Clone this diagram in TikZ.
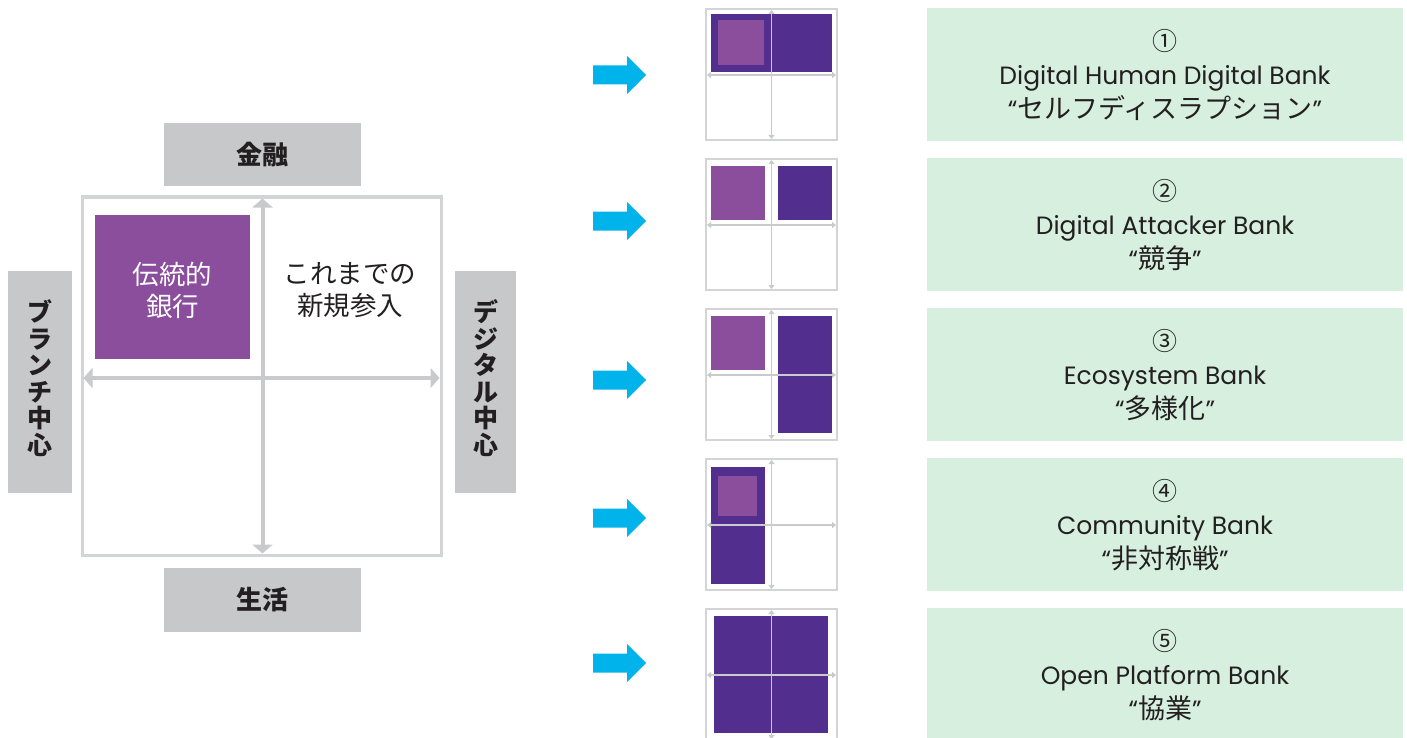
\documentclass[tikz,border=0pt]{standalone}
\usepackage{fontspec}
\setmainfont{Noto Sans CJK JP}
\newfontfamily\lat{Poppins}
\usetikzlibrary{arrows.meta}
\definecolor{boxgray}{HTML}{C7C8CA}
\definecolor{edgegray}{HTML}{D3D4D5}
\definecolor{axisgray}{HTML}{C9CACC}
\definecolor{lpurple}{HTML}{8A4E9C}
\definecolor{dpurple}{HTML}{522E8F}
\definecolor{arrowcyan}{HTML}{00B4EB}
\definecolor{mint}{HTML}{D6EFDF}
\definecolor{ink}{HTML}{231F20}
\newcommand{\jq}[1]{{\fontsize{27}{34}\selectfont #1}}
\tikzset{
  graybox/.style={fill=boxgray, inner sep=0pt, text=ink, font=\bfseries\fontsize{26}{27}\selectfont},
  quadtext/.style={align=center, inner sep=0pt, font=\fontsize{26.5}{32}\selectfont},
  bigaxis/.style={draw=axisgray, line width=4pt, {Triangle[width=20pt,length=9pt]}-{Triangle[width=20pt,length=9pt]}},
  smallaxis/.style={draw=axisgray, line width=1.5pt, {Triangle[width=6pt,length=4pt]}-{Triangle[width=6pt,length=4pt]}},
  gridframe/.style={draw=edgegray, line width=2pt, fill=white},
  lp/.style={fill=lpurple},
  dp/.style={fill=dpurple},
  mintbox/.style={fill=mint, inner sep=0pt, minimum width=476pt, minimum height=133pt},
  label/.style={align=center, text=ink, inner sep=0pt, font=\fontsize{25}{34}\selectfont},
  cyanarrow/.style={fill=arrowcyan},
}
\begin{document}
\begin{tikzpicture}[x=1pt, y=-1pt]
\useasboundingbox (0,0) rectangle (1407,738);
\clip (0,0) rectangle (1407,738);
% ---------- left quadrant ----------
\node[graybox, minimum width=197pt, minimum height=63pt] (fin) at (262.5,154.5) {金融};
\node[graybox, minimum width=197pt, minimum height=64pt] (life) at (262.5,600) {生活};
\node[graybox, minimum width=64pt, minimum height=222pt] (branch) at (40,382) {};
\node[graybox, minimum width=61pt, minimum height=222pt] (digital) at (485.5,382) {};
\node[font=\bfseries\fontsize{25}{26.5}\selectfont, align=center, text=ink, inner sep=0pt] (branchtxt) at (40,378) {ブ\\ラ\\ン\\チ\\中\\心};
\node[font=\bfseries\fontsize{25}{26.5}\selectfont, align=center, text=ink, inner sep=0pt] (digitaltxt) at (485.5,378) {デ\\ジ\\タ\\ル\\中\\心};
\draw[draw=edgegray, line width=3pt] (82,197) rectangle (441,555);
\node[fill=lpurple, minimum width=155pt, minimum height=144pt, inner sep=0pt] (trad) at (172.5,287) {};
\node[quadtext, text=white] (tradtxt) at (172.5,290) {伝統的\\銀行};
\node[quadtext, text=ink] (newtxt) at (350,290) {これまでの\\新規参入};
\coordinate (vtop) at (262.5,198.5);
\coordinate (vbot) at (262.5,553.5);
\coordinate (hl) at (83.5,378);
\coordinate (hr) at (439.5,378);
\draw[bigaxis] (vbot) -- (vtop);
\draw[bigaxis] (hl) -- (hr);
% ---------- cyan arrows ----------
\foreach \c/\n in {75/a1,221/a2,380/a3,518/a4,663/a5}{
  \fill[cyanarrow] (593,\c-9.5) -- (627,\c-9.5) -- (627,\c-19) -- (646,\c) -- (627,\c+19) -- (627,\c+9.5) -- (593,\c+9.5) -- cycle;
}
% ---------- small grids ----------
% grid 1
\begin{scope}[shift={(706,9)}]
  \draw[gridframe] (0,0) rectangle (131,131);
  \fill[dp] (5,5) rectangle (126,63);
  \fill[lp] (12,11) rectangle (58,56);
  \coordinate (g1t) at (65.5,1); \coordinate (g1b) at (65.5,130);
  \coordinate (g1l) at (1,66); \coordinate (g1r) at (130,66);
  \draw[smallaxis] (g1t) -- (g1b); \draw[smallaxis] (g1l) -- (g1r);
\end{scope}
% grid 2
\begin{scope}[shift={(706,159)}]
  \draw[gridframe] (0,0) rectangle (131,131);
  \fill[lp] (5,7) rectangle (59,61);
  \fill[dp] (72,7) rectangle (126,61);
  \coordinate (g2t) at (65.5,1); \coordinate (g2b) at (65.5,130);
  \coordinate (g2l) at (1,66); \coordinate (g2r) at (130,66);
  \draw[smallaxis] (g2t) -- (g2b); \draw[smallaxis] (g2l) -- (g2r);
\end{scope}
% grid 3
\begin{scope}[shift={(706,309)}]
  \draw[gridframe] (0,0) rectangle (131,131);
  \fill[lp] (5,7) rectangle (59,61);
  \fill[dp] (72,7) rectangle (126,124);
  \coordinate (g3t) at (65.5,1); \coordinate (g3b) at (65.5,130);
  \coordinate (g3l) at (1,66); \coordinate (g3r) at (130,66);
  \draw[smallaxis] (g3t) -- (g3b); \draw[smallaxis] (g3l) -- (g3r);
\end{scope}
% grid 4
\begin{scope}[shift={(706,459)}]
  \draw[gridframe] (0,0) rectangle (131,131);
  \fill[dp] (5,8) rectangle (59,125);
  \fill[lp] (12,17) rectangle (51,57);
  \coordinate (g4t) at (65.5,1); \coordinate (g4b) at (65.5,130);
  \coordinate (g4l) at (1,66); \coordinate (g4r) at (130,66);
  \draw[smallaxis] (g4t) -- (g4b); \draw[smallaxis] (g4l) -- (g4r);
\end{scope}
% grid 5
\begin{scope}[shift={(706,609)}]
  \draw[gridframe] (0,0) rectangle (131,131);
  \fill[dp] (8,7) rectangle (122,124);
  \coordinate (g5t) at (65.5,1); \coordinate (g5b) at (65.5,130);
  \coordinate (g5l) at (1,66); \coordinate (g5r) at (130,66);
  \draw[smallaxis] (g5t) -- (g5b); \draw[smallaxis] (g5l) -- (g5r);
\end{scope}
% ---------- mint label boxes ----------
\node[mintbox] (m1) at (1165,74.5) {};
\node[mintbox] (m2) at (1165,224.5) {};
\node[mintbox] (m3) at (1165,374.5) {};
\node[mintbox] (m4) at (1165,524.5) {};
\node[mintbox] (m5) at (1165,674.5) {};
\node[label] (l1) at (1165,75) {①\\{\lat Digital Human Digital Bank}\\{\lat “}\jq{セルフディスラプション}{\lat ”}};
\node[label] (l2) at (1165,225) {②\\{\lat Digital Attacker Bank}\\{\lat “}\jq{競争}{\lat ”}};
\node[label] (l3) at (1165,375) {③\\{\lat Ecosystem Bank}\\{\lat “}\jq{多様化}{\lat ”}};
\node[label] (l4) at (1165,525) {④\\{\lat Community Bank}\\{\lat “}\jq{非対称戦}{\lat ”}};
\node[label] (l5) at (1165,675) {⑤\\{\lat Open Platform Bank}\\{\lat “}\jq{協業}{\lat ”}};
\end{tikzpicture}
\end{document}
